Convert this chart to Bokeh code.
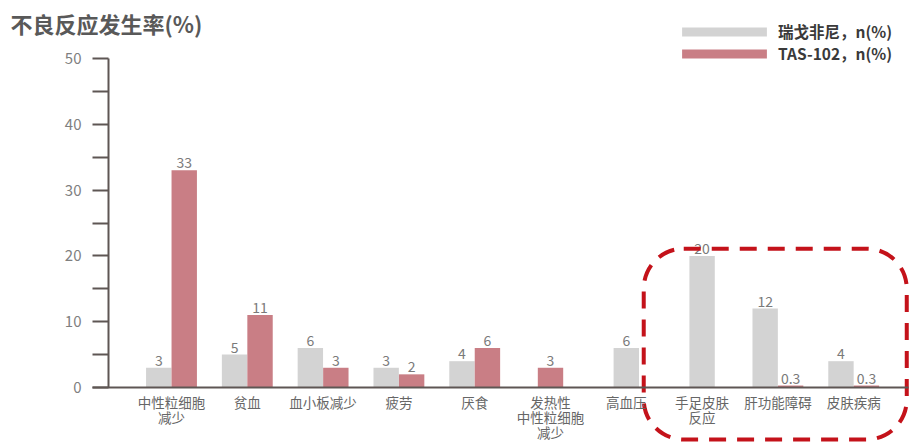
from bokeh.plotting import figure
from bokeh.models import ColumnDataSource, Range1d, FixedTicker, Legend, LegendItem, Label
from bokeh.core.properties import value
from bokeh.embed import file_html
from bokeh.resources import INLINE

# ---------------- data ----------------
categories = ["中性粒细胞\n减少", "贫血", "血小板减少", "疲劳", "厌食",
              "发热性\n中性粒细胞\n减少", "高血压", "手足皮肤\n反应", "肝功能障碍", "皮肤疾病"]
regorafenib = [3, 5, 6, 3, 4, None, 6, 20, 12, 4]
tas102 = [33, 11, 3, 2, 6, 3, None, None, 0.3, 0.3]
series_names = ["瑞戈非尼，n(%)", "TAS-102，n(%)"]
highlight = ["手足皮肤\n反应", "肝功能障碍", "皮肤疾病"]
y_ticks = [0, 10, 20, 30, 40, 50]
y_minor_ticks = [5, 15, 25, 35, 45]
title_text = "不良反应发生率(%)"

# ---------------- layout / style ----------------
W, H = 912, 443
X0, DX = 171.0, 75.8      # pixel of first category centre, pixels per category
Y0, DY = 387.0, 6.58      # pixel of y = 0, pixels per unit


def dx(px):
    return (px - X0) / DX


def dy(py):
    return (Y0 - py) / DY


FONT = "Noto Sans CJK SC"
GRAY = "#d3d3d3"
RED = "#c97e85"
AXIS = "#5e5654"
BW = 0.335
OFF = 0.168

p = figure(width=W, height=H, output_backend="svg", toolbar_location=None, title=None,
           x_range=Range1d(dx(0), dx(W)), y_range=Range1d(dy(H), dy(0)),
           min_border=0, min_border_left=0, min_border_right=0,
           min_border_top=0, min_border_bottom=0)
p.outline_line_color = None
p.xgrid.visible = False
p.ygrid.visible = False
p.background_fill_color = "white"
p.border_fill_color = "white"

# bar positions
gx, gy, rx, ry = [], [], [], []
for i, (a, b) in enumerate(zip(regorafenib, tas102)):
    both = a is not None and b is not None
    if a is not None:
        gx.append(i - OFF if both else i)
        gy.append(a)
    if b is not None:
        rx.append(i + OFF if both else i)
        ry.append(b)


def fmt(v):
    return str(int(v)) if float(v).is_integer() else str(v)


gsrc = ColumnDataSource(dict(x=gx, top=gy, lab=[fmt(v) for v in gy]))
rsrc = ColumnDataSource(dict(x=rx, top=ry, lab=[fmt(v) for v in ry]))

g = p.vbar(x="x", top="top", bottom=0, width=BW, source=gsrc, fill_color=GRAY, line_color=None)
r = p.vbar(x="x", top="top", bottom=0, width=BW, source=rsrc, fill_color=RED, line_color=None)

for src in (gsrc, rsrc):
    p.text(x="x", y="top", text="lab", source=src, y_offset=-2,
           text_align="center", text_baseline="bottom",
           text_font=value(FONT), text_font_size="14px", text_color="#7a7a7a")

# highlight box around the chosen categories
hi = [categories.index(c) for c in highlight]
hi_vals = [v for i in hi for v in (regorafenib[i], tas102[i]) if v is not None]
p.quad(left=[min(hi) - 0.77], right=[max(hi) + 0.70], top=[max(hi_vals) + 1.1], bottom=[dy(439)],
       fill_color=None, line_color="#c4121a", line_width=4, line_dash="17 11",
       border_radius=40)

# axes
yloc = dx(108)
p.yaxis.fixed_location = yloc
p.yaxis.ticker = FixedTicker(ticks=y_ticks, minor_ticks=y_minor_ticks)
p.yaxis.bounds = (y_ticks[0], y_ticks[-1])
p.yaxis.axis_line_color = AXIS
p.yaxis.axis_line_width = 2
p.yaxis.major_tick_line_color = AXIS
p.yaxis.major_tick_line_width = 2
p.yaxis.minor_tick_line_color = AXIS
p.yaxis.minor_tick_line_width = 2
p.yaxis.major_tick_out = 16
p.yaxis.major_tick_in = 0
p.yaxis.minor_tick_out = 16
p.yaxis.minor_tick_in = 0
p.yaxis.major_label_standoff = 11
p.yaxis.major_label_text_font = FONT
p.yaxis.major_label_text_font_size = "15px"
p.yaxis.major_label_text_color = "#7f7f7f"

p.xaxis.fixed_location = 0
p.xaxis.ticker = FixedTicker(ticks=list(range(len(categories))), minor_ticks=[])
p.xaxis.major_label_overrides = {i: c for i, c in enumerate(categories)}
p.xaxis.bounds = (dx(92), dx(908))
p.xaxis.axis_line_color = AXIS
p.xaxis.axis_line_width = 2
p.xaxis.major_tick_out = 0
p.xaxis.major_tick_in = 0
p.xaxis.minor_tick_out = 0
p.xaxis.minor_tick_in = 0
p.xaxis.major_label_standoff = 4
p.xaxis.major_label_text_font = FONT
p.xaxis.major_label_text_font_size = "13.5px"
p.xaxis.major_label_text_line_height = 0.75
p.xaxis.major_label_text_color = "#666666"

# title
p.add_layout(Label(x=dx(10), y=dy(22), text=title_text, text_baseline="middle",
                   text_font=FONT, text_font_size="22px", text_font_style="bold",
                   text_color="#595959"))

# legend
legend = Legend(items=[LegendItem(label=series_names[0], renderers=[g]),
                       LegendItem(label=series_names[1], renderers=[r])],
                location=(671, 379), orientation="vertical",
                glyph_width=106, glyph_height=11, label_standoff=1,
                label_height=22, spacing=0, padding=0, margin=0,
                border_line_color=None, background_fill_alpha=0,
                label_text_font=FONT, label_text_font_size="15.5px",
                label_text_font_style="bold", label_text_color="#3a3a3a")
p.add_layout(legend)

open("out.html", "w").write(file_html(p, INLINE))
